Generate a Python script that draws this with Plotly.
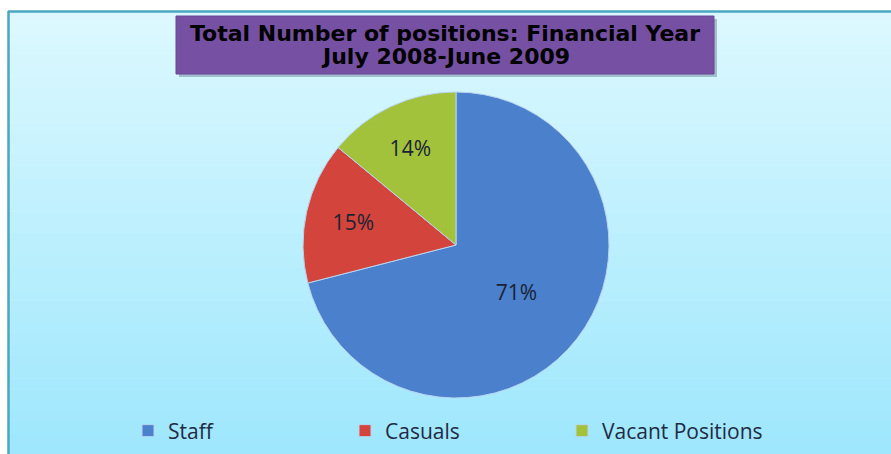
import plotly.graph_objects as go

# ---- data ----
categories = ["Staff", "Casuals", "Vacant Positions"]
values = [71, 15, 14]
slice_colors = ["#4a80cc", "#d2443c", "#a2c23c"]
title_lines = ["Total Number of positions: Financial Year", "July 2008-June 2009"]

W, H = 891, 454

def px(x):
    return x / W

def py(y):
    return 1 - y / H

fig = go.Figure()

fig.add_trace(go.Pie(
    labels=categories,
    values=values,
    sort=False,
    direction="clockwise",
    rotation=0,
    marker=dict(colors=slice_colors, line=dict(color="#b9d4f0", width=1)),
    textinfo="percent",
    textposition="inside",
    insidetextorientation="horizontal",
    textfont=dict(family="Open Sans", size=21, color="#1a2333"),
    domain=dict(x=[px(456 - 153), px(456 + 153)], y=[py(245 + 153), py(245 - 153)]),
    hoverinfo="label+percent",
))

shapes = []
# background gradient bands
top_c = (220, 248, 254)
bot_c = (158, 231, 253)
n = 40
y0p, y1p = 11, H + 2
for i in range(n):
    t = i / (n - 1)
    c = tuple(int(round(top_c[k] + (bot_c[k] - top_c[k]) * t)) for k in range(3))
    ya = y0p + (y1p - y0p) * i / n
    yb = y0p + (y1p - y0p) * (i + 1) / n + 0.6
    shapes.append(dict(type="rect", xref="paper", yref="paper",
                       x0=px(8), x1=px(W + 5), y0=py(yb), y1=py(ya),
                       fillcolor="rgb(%d,%d,%d)" % c, line=dict(width=0), layer="below"))
# border
shapes.append(dict(type="line", xref="paper", yref="paper", x0=px(8), x1=px(W + 5),
                   y0=py(11.5), y1=py(11.5), line=dict(color="#4aa6c2", width=2.5), layer="below"))
shapes.append(dict(type="line", xref="paper", yref="paper", x0=px(8.5), x1=px(8.5),
                   y0=py(11), y1=py(H + 5), line=dict(color="#4aa6c2", width=2.5), layer="below"))
# title box shadow + box
shapes.append(dict(type="rect", xref="paper", yref="paper", x0=px(179), x1=px(717),
                   y0=py(77), y1=py(19), fillcolor="rgba(60,90,110,0.35)", line=dict(width=0), layer="below"))
shapes.append(dict(type="rect", xref="paper", yref="paper", x0=px(176), x1=px(714),
                   y0=py(74), y1=py(16), fillcolor="#7650a3", line=dict(color="#6a4496", width=1), layer="below"))

title_y = [33.5, 57]
annotations = [dict(
    text="<b>" + line + "</b>",
    xref="paper", yref="paper", x=px(445), y=py(yy), xanchor="center", yanchor="middle",
    showarrow=False, font=dict(family="DejaVu Sans", size=22, color="#000000"),
) for line, yy in zip(title_lines, title_y)]

fig.update_layout(
    width=W, height=H,
    margin=dict(l=0, r=0, t=0, b=0),
    paper_bgcolor="white",
    plot_bgcolor="rgba(0,0,0,0)",
    shapes=shapes,
    annotations=annotations,
    showlegend=True,
    legend=dict(
        orientation="h", x=px(128), y=py(431), xanchor="left", yanchor="middle",
        font=dict(family="Open Sans", size=21, color="#1f2a44"),
        bgcolor="rgba(0,0,0,0)", entrywidth=172, entrywidthmode="pixels",
    ),
)

fig.write_html("out.html", config={"displayModeBar": False},
               post_script="document.body.style.margin='0';document.body.style.overflow='hidden';")
